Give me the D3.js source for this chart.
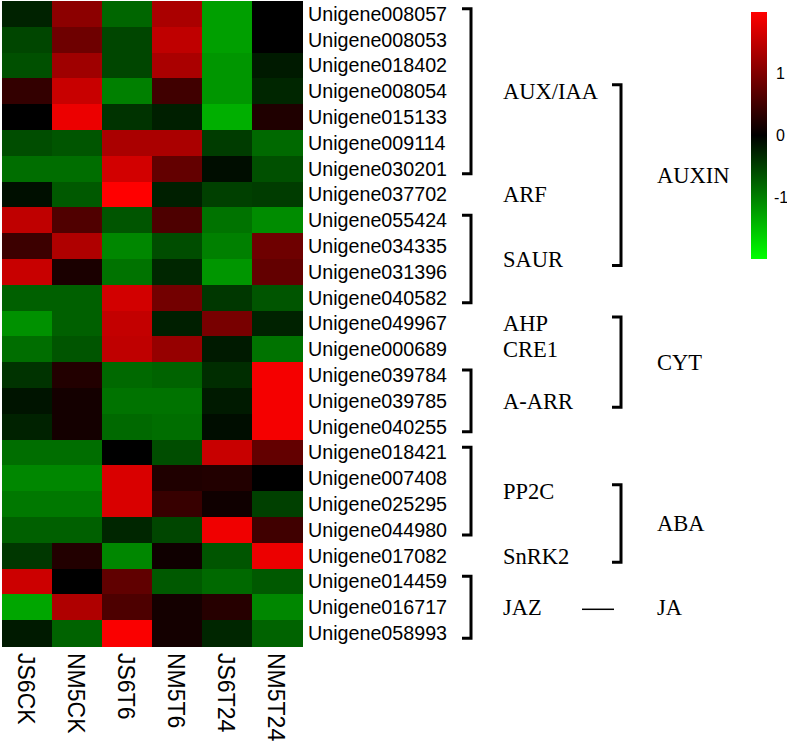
<!DOCTYPE html>
<html>
<head>
<meta charset="utf-8">
<script src="https://cdn.jsdelivr.net/npm/d3@7/dist/d3.min.js"></script>
<style>
  html, body { margin: 0; padding: 0; background: #fff; }
  svg { display: block; }
</style>
</head>
<body>
<svg id="chart" width="787" height="744"></svg>
<script>
const samples = ["JS6CK", "NM5CK", "JS6T6", "NM5T6", "JS6T24", "NM5T24"];
const genes = [
  "Unigene008057", "Unigene008053", "Unigene018402", "Unigene008054", "Unigene015133",
  "Unigene009114", "Unigene030201", "Unigene037702", "Unigene055424", "Unigene034335",
  "Unigene031396", "Unigene040582", "Unigene049967", "Unigene000689", "Unigene039784",
  "Unigene039785", "Unigene040255", "Unigene018421", "Unigene007408", "Unigene025295",
  "Unigene044980", "Unigene017082", "Unigene014459", "Unigene016717", "Unigene058993"
];
const values = [
  [-0.27, 1.10, -0.80, 1.33, -1.25, 0.00],
  [-0.55, 0.86, -0.55, 1.50, -1.25, 0.00],
  [-0.63, 1.25, -0.55, 1.33, -1.18, -0.20],
  [0.40, 1.57, -1.00, 0.50, -1.18, -0.30],
  [0.00, 1.85, -0.40, -0.24, -1.37, 0.24],
  [-0.60, -0.67, 1.33, 1.33, -0.47, -0.82],
  [-0.86, -0.86, 1.65, 0.78, -0.10, -0.63],
  [-0.12, -0.70, 2.00, -0.24, -0.50, -0.47],
  [1.50, 0.63, -0.67, 0.60, -0.90, -1.10],
  [0.47, 1.37, -1.06, -0.60, -1.00, 0.86],
  [1.57, 0.20, -0.90, -0.30, -1.18, 0.78],
  [-0.75, -0.75, 1.65, 0.90, -0.43, -0.67],
  [-1.14, -0.75, 1.53, -0.24, 0.94, -0.27],
  [-0.86, -0.67, 1.50, 1.18, -0.20, -0.90],
  [-0.40, 0.27, -0.82, -0.78, -0.35, 1.92],
  [-0.16, 0.16, -0.90, -0.90, -0.20, 1.92],
  [-0.27, 0.16, -0.82, -0.86, -0.10, 1.92],
  [-0.86, -0.86, 0.00, -0.60, 1.57, 0.78],
  [-1.06, -1.06, 1.70, 0.24, 0.27, 0.00],
  [-0.94, -0.94, 1.70, 0.43, 0.12, -0.50],
  [-0.75, -0.75, -0.30, -0.55, 1.88, 0.50],
  [-0.43, 0.27, -1.06, 0.12, -0.67, 1.85],
  [1.60, 0.00, 0.75, -0.70, -0.82, -0.70],
  [-1.30, 1.37, 0.60, 0.16, 0.30, -1.06],
  [-0.20, -0.78, 1.96, 0.16, -0.30, -0.78]
];
const legendTicks = [-1, 0, 1];
const subgroups = ["AUX/IAA", "ARF", "SAUR", "AHP", "CRE1", "A-ARR", "PP2C", "SnRK2", "JAZ"];
const subgroupFirst = [0, 7, 8, 12, 13, 14, 17, 21, 22];
const subgroupLast = [6, 7, 11, 12, 13, 16, 20, 21, 24];
const pathways = ["AUXIN", "CYT", "ABA", "JA"];
const pathwayFirstSub = [0, 3, 6, 8];
const pathwayLastSub = [2, 5, 7, 8];

const svg = d3.select("#chart");

const x = d3.scaleBand().domain(samples).range([2, 302]);
const y = d3.scaleBand().domain(genes).range([1, 646]);
const rowPos = r => y.range()[0] + r * y.step();
const color = d3.scaleLinear().domain([-2, 0, 2]).range(["#00ff00", "#000000", "#ff0000"]).clamp(true);

// heatmap cells
const cells = [];
values.forEach((row, i) => row.forEach((v, j) => cells.push({ g: genes[i], s: samples[j], v })));
svg.append("g").attr("shape-rendering", "crispEdges")
  .selectAll("rect").data(cells).join("rect")
  .attr("x", d => x(d.s)).attr("y", d => y(d.g))
  .attr("width", x.bandwidth() + 0.5).attr("height", y.bandwidth() + 0.5)
  .attr("fill", d => color(d.v));

// gene labels
svg.append("g").selectAll("text").data(genes).join("text")
  .attr("x", 308).attr("y", d => y(d) + y.bandwidth() / 2)
  .attr("dy", "0.35em")
  .attr("font-family", "'Liberation Sans', Arial, sans-serif")
  .attr("font-size", 19.7).attr("fill", "#000")
  .text(d => d);

// sample labels (rotated)
svg.append("g").selectAll("text").data(samples).join("text")
  .attr("transform", d => `translate(${x(d) + x.bandwidth() / 2 - 1},653) rotate(90)`)
  .attr("dy", "0.35em")
  .attr("font-family", "'Liberation Sans', Arial, sans-serif")
  .attr("font-size", 23).attr("fill", "#000")
  .text(d => d);

// subgroup brackets and labels
const serif = "'Liberation Serif', 'Times New Roman', serif";
const subCenter = i => (subgroupFirst[i] + subgroupLast[i] + 1) / 2;
const br = svg.append("g").attr("fill", "none").attr("stroke", "#000").attr("stroke-width", 3);
subgroups.forEach((name, i) => {
  if (subgroupLast[i] > subgroupFirst[i]) {
    const top = rowPos(subgroupFirst[i] + 0.3);
    const bot = rowPos(subgroupLast[i] + 1 - 0.3);
    br.append("path").attr("d", `M462,${top}H471V${bot}H462`);
  }
});
svg.append("g").selectAll("text").data(subgroups).join("text")
  .attr("x", 503).attr("y", (d, i) => rowPos(subCenter(i)))
  .attr("dy", "0.35em")
  .attr("font-family", serif).attr("font-size", 22.5).attr("fill", "#000")
  .text(d => d);

// pathway brackets and labels
pathways.forEach((name, k) => {
  const a = pathwayFirstSub[k], b = pathwayLastSub[k];
  let ly;
  if (b > a) {
    const top = rowPos(subCenter(a) - 0.25);
    const bot = rowPos(subCenter(b) + 0.25);
    br.append("path").attr("d", `M612,${top}H621V${bot}H612`);
    ly = (top + bot) / 2;
  } else {
    ly = rowPos(subCenter(a));
    br.append("line").attr("x1", 582).attr("x2", 614)
      .attr("y1", ly + 2).attr("y2", ly + 2).attr("stroke-width", 1.5);
  }
  svg.append("text").attr("x", 657).attr("y", ly).attr("dy", "0.35em")
    .attr("font-family", serif).attr("font-size", 22.5).attr("fill", "#000")
    .text(name);
});

// colour legend
const ly = d3.scaleLinear().domain([-2, 2]).range([259, 12]);
const defs = svg.append("defs");
const grad = defs.append("linearGradient").attr("id", "lg")
  .attr("x1", 0).attr("y1", 1).attr("x2", 0).attr("y2", 0);
[-2, 0, 2].forEach((v, i) => grad.append("stop")
  .attr("offset", `${i * 50}%`).attr("stop-color", color(v)));
svg.append("rect").attr("x", 751).attr("y", ly(2))
  .attr("width", 16).attr("height", ly(-2) - ly(2))
  .attr("fill", "url(#lg)");
svg.append("g").selectAll("text").data(legendTicks).join("text")
  .attr("x", d => d < 0 ? 774 : 776).attr("y", d => ly(d)).attr("dy", "0.35em")
  .attr("font-family", "'Liberation Sans', Arial, sans-serif")
  .attr("font-size", 16).attr("fill", "#000")
  .text(d => d);
</script>
</body>
</html>
